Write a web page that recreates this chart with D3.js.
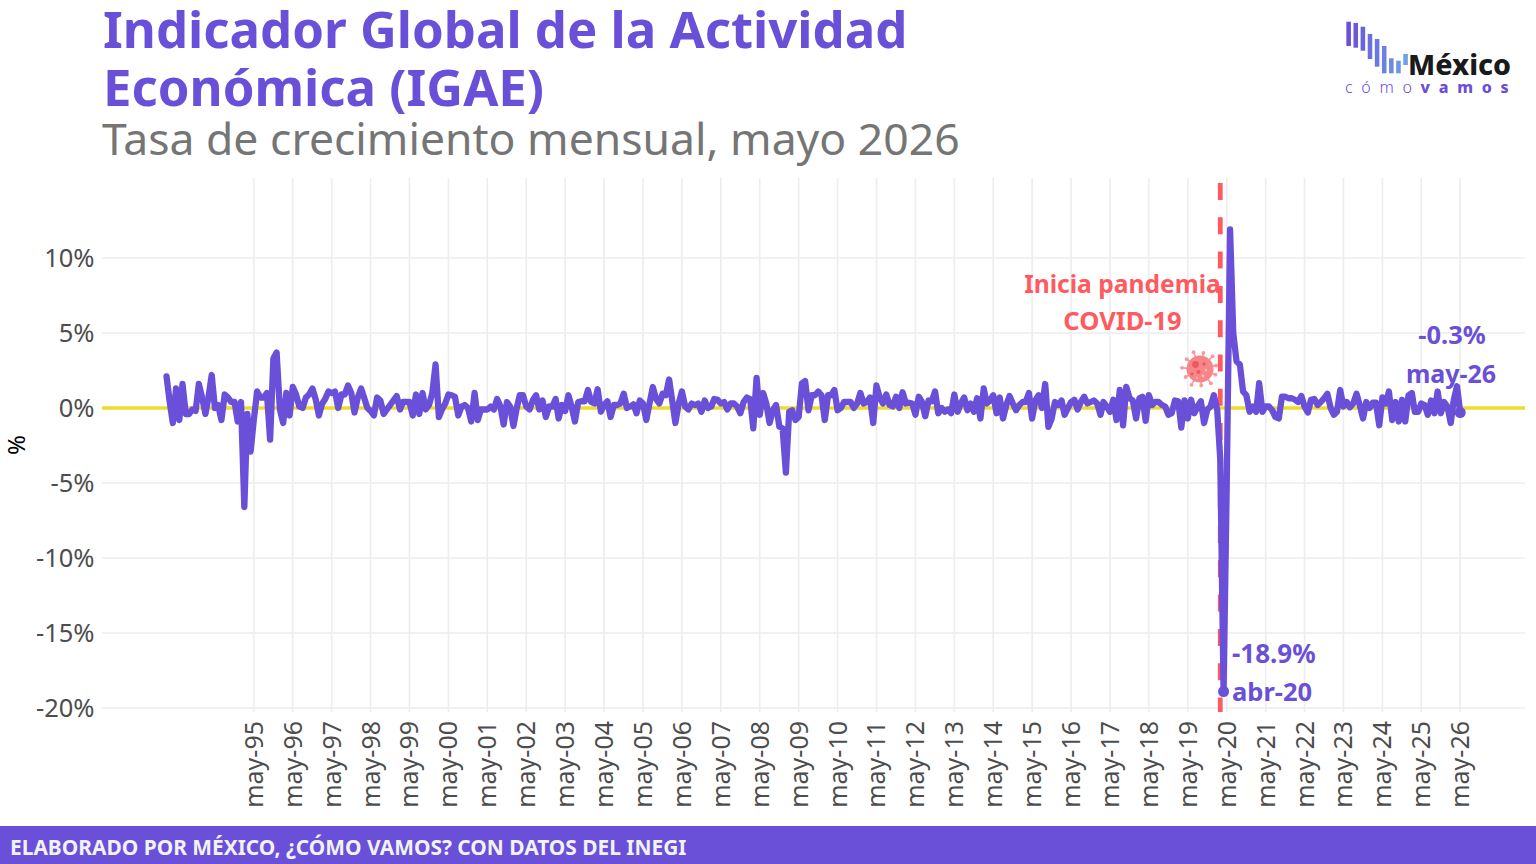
<!DOCTYPE html>
<html lang="es">
<head>
<meta charset="utf-8">
<title>IGAE</title>
<script src="https://cdn.jsdelivr.net/npm/d3@7/dist/d3.min.js"></script>
<style>
  html, body { margin: 0; padding: 0; background: #fff; }
  svg { display: block; }
  text { font-family: "Noto Sans", "Open Sans", sans-serif; }
</style>
</head>
<body>
<svg id="chart" width="1536" height="864"></svg>
<script>
// Tasa de crecimiento mensual del IGAE, de febrero de 1993 a mayo de 2026
const primerMes = new Date(1993, 1, 1);
const igaeMensual = [
  2.1,0.5,-1.0,1.3,-0.8,1.6,-0.4,-0.4,-0.1,-0.2,1.6,0.7,-0.4,0.7,2.2,0.0,0.2,-0.8,0.9,0.7,0.4,
  0.4,-0.9,0.4,-6.6,-0.4,-2.9,-0.8,1.1,0.7,0.7,1.0,-2.1,3.3,3.7,-0.1,-1.0,1.0,-0.5,1.4,0.9,
  0.1,0.0,0.7,0.9,1.3,0.6,-0.5,0.3,0.6,1.1,1.0,1.1,0.0,0.9,0.9,1.5,1.0,-0.3,0.7,1.3,
  0.7,0.0,-0.2,-0.5,0.7,0.5,-0.4,-0.1,0.2,0.5,0.8,-0.1,0.4,0.4,0.4,-0.5,0.9,-0.4,1.0,-0.1,
  0.2,1.0,2.9,-0.6,-0.1,0.3,0.9,0.85,0.75,-0.5,0.1,0.2,0.0,-0.9,1.0,-0.8,-0.1,-0.1,-0.1,0.1,
  -0.1,0.6,0.1,-1.1,0.4,0.1,-1.2,0.0,0.85,0.85,0.1,-0.1,0.5,0.85,-0.1,0.5,-0.6,0.1,0.1,0.6,
  -0.7,0.2,-0.2,0.85,0.1,-0.9,0.4,0.45,0.45,1.2,0.4,0.3,1.25,-0.25,0.2,0.45,-0.6,0.2,0.2,0.3,
  0.95,0.0,0.1,0.25,-0.35,0.5,0.3,-0.8,0.3,1.4,0.6,0.3,0.95,0.85,1.9,0.4,-1.0,0.3,1.1,0.1,
  -0.1,0.3,0.2,0.3,-0.25,0.5,0.0,0.1,0.6,0.55,0.3,0.4,-0.1,0.3,0.3,0.1,-0.35,0.4,0.7,0.6,
  -1.35,2.0,-0.45,1.0,0.3,-1.0,-0.15,0.2,-1.25,-1.35,-4.3,-0.25,-0.15,-0.8,-0.6,1.65,1.8,-0.15,0.85,0.85,
  1.1,0.85,-0.8,0.85,0.85,1.2,-0.15,0.0,0.4,0.4,0.4,0.0,0.3,1.0,0.3,0.4,0.7,-1.0,1.5,0.7,
  0.3,0.9,0.2,0.1,0.75,0.0,1.05,0.3,0.35,0.3,-0.45,0.75,0.4,-0.55,0.5,0.45,1.1,-0.35,0.0,-0.25,
  -0.1,-0.35,0.9,-0.25,0.3,0.7,-0.15,0.3,-0.25,0.65,-0.7,1.3,0.3,0.5,0.85,-0.35,0.7,-0.7,0.2,0.8,
  0.3,-0.15,0.2,0.4,0.4,1.0,-0.7,0.5,0.85,0.0,1.6,-1.25,-0.7,0.4,0.2,0.5,-0.45,0.0,0.4,0.55,
  -0.1,0.4,0.75,0.3,0.4,0.5,0.3,-0.45,0.4,0.1,-0.25,0.55,-0.8,1.2,-1.15,1.4,0.65,0.5,-0.7,0.65,
  0.75,-0.85,0.85,0.2,0.4,0.4,0.2,0.1,-0.45,-0.35,0.5,0.45,-1.3,0.5,-0.7,0.55,-0.35,0.1,0.45,-1.0,
  -0.1,0.1,0.85,-0.1,-3.4,-18.9,-5.0,11.9,5.0,3.1,2.9,1.1,0.85,-0.25,0.1,-0.25,1.65,-0.25,0.1,0.1,
  -0.15,-0.6,-0.7,0.75,0.75,0.65,0.65,0.55,0.4,0.8,0.1,-0.3,0.55,0.6,0.2,0.4,0.65,0.95,0.0,-0.45,
  -0.25,1.2,0.1,0.4,0.05,0.3,0.95,0.2,-0.7,0.4,0.0,0.35,0.35,-1.15,0.7,0.3,1.1,-0.8,0.4,
  -0.9,0.55,-0.9,0.85,1.0,-0.25,-0.25,0.3,0.2,-0.45,0.5,-0.35,1.1,-0.35,0.4,0.1,-1.0,0.5,1.45,-0.3
];
const ticksY = [10, 5, 0, -5, -10, -15, -20];
const aniosEje = ["95","96","97","98","99","00","01","02","03","04","05","06","07","08","09","10",
  "11","12","13","14","15","16","17","18","19","20","21","22","23","24","25","26"];
const titulo = ["Indicador Global de la Actividad", "Económica (IGAE)"];
const subtitulo = "Tasa de crecimiento mensual, mayo 2026";
const pie = "ELABORADO POR MÉXICO, ¿CÓMO VAMOS? CON DATOS DEL INEGI";

const MORADO = "#6a4fd8", ROJO = "#ff5a5f", AMARILLO = "#eedc2b", GRIS = "#ededed";

const svg = d3.select("#chart");
const fechas = igaeMensual.map((_, i) => d3.timeMonth.offset(primerMes, i));
const serie = igaeMensual.map((v, i) => ({ fecha: fechas[i], valor: v }));
const fechaTick = a => new Date((+a > 50 ? 1900 : 2000) + (+a), 4, 1);

const x = d3.scaleTime().domain([new Date(1995, 4, 1), new Date(2026, 4, 1)]).range([253.8, 1460.2]);
const y = d3.scaleLinear().domain([0, 10]).range([408, 258]);

// Rejilla
svg.append("g").selectAll("line").data(aniosEje).join("line")
  .attr("x1", a => x(fechaTick(a))).attr("x2", a => x(fechaTick(a)))
  .attr("y1", 178).attr("y2", 712)
  .attr("stroke", GRIS).attr("stroke-width", 1.6);
svg.append("g").selectAll("line").data(ticksY).join("line")
  .attr("x1", 102).attr("x2", 1525)
  .attr("y1", d => y(d)).attr("y2", d => y(d))
  .attr("stroke", GRIS).attr("stroke-width", 1.6);

// Eje vertical
svg.append("g").selectAll("text").data(ticksY).join("text")
  .attr("x", 94.5).attr("y", d => y(d)).attr("dy", "0.36em")
  .attr("text-anchor", "end").attr("font-size", 25.5).attr("fill", "#4d4d4d")
  .text(d => d + "%");
svg.append("text").attr("transform", "translate(25,445) rotate(-90)")
  .attr("text-anchor", "middle").attr("font-size", 24).attr("fill", "#000").text("%");

// Eje horizontal
svg.append("g").selectAll("text").data(aniosEje).join("text")
  .attr("transform", a => `translate(${x(fechaTick(a)) + 9},721) rotate(-90)`)
  .attr("text-anchor", "end").attr("font-size", 25).attr("fill", "#4d4d4d")
  .text(a => "may-" + a);

// Referencia en cero
svg.append("line").attr("x1", 102).attr("x2", 1525)
  .attr("y1", y(0)).attr("y2", y(0))
  .attr("stroke", AMARILLO).attr("stroke-width", 3.6);

// Inicio de la pandemia
const xPandemia = x(new Date(2020, 2, 1));
svg.append("line").attr("x1", xPandemia).attr("x2", xPandemia)
  .attr("y1", 183).attr("y2", 712)
  .attr("stroke", ROJO).attr("stroke-width", 4.8).attr("stroke-dasharray", "17 17.3");

// Serie
const linea = d3.line().x(d => x(d.fecha)).y(d => y(d.valor));
svg.append("path").datum(serie).attr("d", linea)
  .attr("fill", "none").attr("stroke", MORADO).attr("stroke-width", 6.3)
  .attr("stroke-linejoin", "round").attr("stroke-linecap", "round");

const abr20 = serie.find(d => +d.fecha === +new Date(2020, 3, 1));
const ultimo = serie[serie.length - 1];
svg.append("g").selectAll("circle").data([abr20, ultimo]).join("circle")
  .attr("cx", d => x(d.fecha)).attr("cy", d => y(d.valor)).attr("r", 5.5).attr("fill", MORADO);

// Etiquetas de la serie
const etiqueta = (tx, ty, t, color, anchor, size) => svg.append("text")
  .attr("x", tx).attr("y", ty).attr("text-anchor", anchor)
  .attr("font-size", size).attr("font-weight", 700).attr("fill", color).text(t);
etiqueta(1232, 663, abr20.valor.toFixed(1) + "%", MORADO, "start", 26);
etiqueta(1232, 701, "abr-20", MORADO, "start", 25.5);
etiqueta(1452, 344, ultimo.valor.toFixed(1) + "%", MORADO, "middle", 25.5);
etiqueta(1451, 383, "may-26", MORADO, "middle", 25);
etiqueta(1122.5, 293, "Inicia pandemia", ROJO, "middle", 24.6);
etiqueta(1122.5, 330, "COVID-19", ROJO, "middle", 25.5);

// Icono del virus
const virus = svg.append("g").attr("transform", "translate(1200,369)");
d3.range(11).forEach(k => {
  const a = k * 2 * Math.PI / 11 + 0.35;
  const largo = k % 2 ? 18 : 16.5;
  const [cx, cy] = [largo * Math.cos(a), largo * Math.sin(a)];
  virus.append("line").attr("x2", cx).attr("y2", cy)
    .attr("stroke", "#f79a9c").attr("stroke-width", 1.6);
  virus.append("circle").attr("cx", cx).attr("cy", cy).attr("r", 1.9).attr("fill", "#f79a9c");
});
virus.append("circle").attr("r", 13.5).attr("fill", "#f88587");
[[-4.5, -4.5, 3.4, "#ec5a60"], [4, -5, 1.7, "#ec5a60"], [-1.5, 3, 2, "#ec5a60"], [-8, 5, 1.6, "#ec5a60"],
 [6, 1, 1.2, "#fcc0c1"], [3, 7, 1.4, "#fcc0c1"], [-3, 9, 1.1, "#fcc0c1"]].forEach(([cx, cy, r, c]) =>
  virus.append("circle").attr("cx", cx).attr("cy", cy).attr("r", r).attr("fill", c));

// Encabezado
svg.append("g").selectAll("text").data(titulo).join("text")
  .attr("x", 103).attr("y", (d, i) => 48 + i * 58)
  .attr("font-size", 50.9).attr("font-weight", 700).attr("fill", MORADO).text(d => d);
svg.append("text").attr("x", 102).attr("y", 155)
  .attr("font-size", 44.5).attr("fill", "#757575").text(subtitulo);

// Logotipo: barras descendentes con el nombre a la derecha
const tramosLogo = [[21.7, 46], [23, 47.7], [26.7, 50.7], [34, 59], [39, 66.7], [46, 73.3], [58.3, 73.3], [60.7, 73.3], [54, 65]];
const xLogo = d3.scaleBand().domain(d3.range(tramosLogo.length)).range([1343.8, 1410.4]).padding(0.36);
const coloresLogo = d3.scaleLinear().domain([0, 8]).range(["#6a4fd8", "#6f9fe8"]);
svg.append("g").selectAll("rect").data(tramosLogo).join("rect")
  .attr("x", (d, i) => xLogo(i)).attr("width", xLogo.bandwidth())
  .attr("y", d => d[0]).attr("height", d => d[1] - d[0])
  .attr("fill", (d, i) => coloresLogo(i));
svg.append("text").attr("x", 1511).attr("y", 75).attr("text-anchor", "end")
  .attr("font-size", 28.5).attr("font-weight", 800).attr("fill", "#1a1a1a").text("México");
const lemaLogo = svg.append("text").attr("x", 1345).attr("y", 92.7)
  .attr("font-size", 16).attr("letter-spacing", 8.7).attr("fill", MORADO);
lemaLogo.append("tspan").attr("font-weight", 300).text("cómo");
lemaLogo.append("tspan").attr("font-weight", 800).text("vamos");

// Banda inferior
svg.append("rect").attr("x", 0).attr("y", 826).attr("width", 1536).attr("height", 38).attr("fill", MORADO);
svg.append("text").attr("x", 10).attr("y", 855).attr("font-size", 20.9).attr("font-weight", 700)
  .attr("fill", "#f2f2f2").text(pie);
</script>
</body>
</html>
